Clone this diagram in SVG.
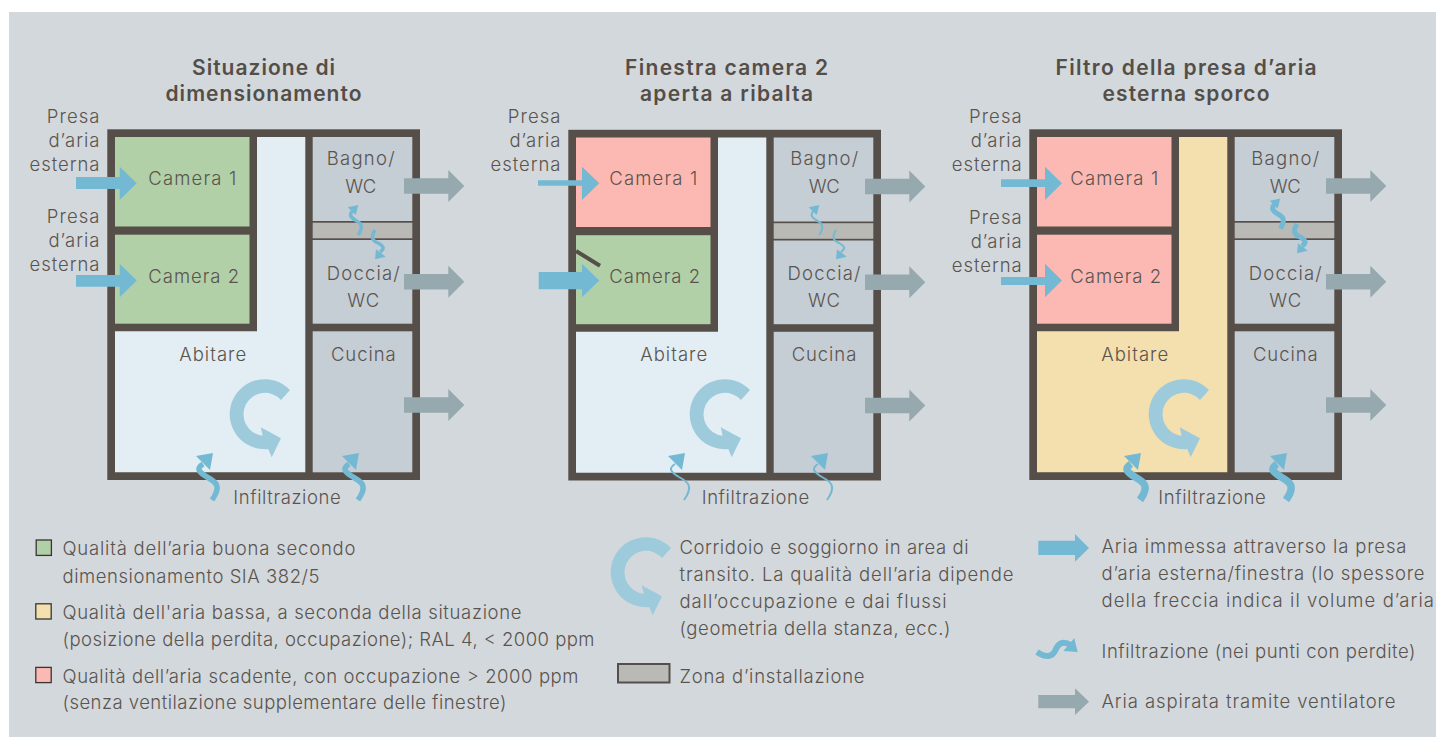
<svg xmlns="http://www.w3.org/2000/svg" width="1436" height="737" viewBox="0 0 1436 737">
<style>
text{font-family:"Inter","Liberation Sans",sans-serif;font-size:18.5px;font-weight:300;fill:#5a544e}
.t{font-size:21px;font-weight:600;fill:#544e48;text-anchor:middle}
.m{text-anchor:middle}.e{text-anchor:end}
.wall{fill:#564f49}.g{fill:#b2d0a7}.r{fill:#fcb9b3}.y{fill:#f4e0ae}.c{fill:#e3edf4}.s{fill:#c5cdd5}.z{fill:#b9b9b6}
.sw{stroke:#3a352f;stroke-width:1.3}
.blue{fill:#74b9d3}.grey{fill:#95a9af}.ring{fill:#9ecbdc}
.i{fill:none;stroke:#74b9d3;stroke-linecap:butt;stroke-linejoin:round}
.h{fill:#74b9d3}
</style>
<defs>
<path id="ringArrow" d="M290,390A35,35 0 1 0 268.3,449L271.7,457.3L281,438.3L260.7,427.3L262.7,435.7A21.5,21.5 0 1 1 281,400Z"/>
<path id="exhaust" d="M404,-7.7H448.3V-16L464.3,0L448.3,16V7.7H404Z"/>
<path id="inf" d="M212,500C222,486 216,482 207,477C197,471 197,468 203,464"/>
<polygon id="infH" points="196,456 213,453 210,470"/>
<path id="up" d="M358.3,235C364,226 361,223 355,220C349,216 350,214 352.3,211"/>
<polygon id="upH" points="347.7,207.3 358.3,205 355.7,215"/>
<path id="dn" d="M375,230C370,238 373,241 378,243C385,247 384,249 380,252"/>
<polygon id="dnH" points="375,259.3 385.7,256.7 376,249.3"/>
</defs>
<rect x="9" y="12" width="1427" height="725" fill="#d3d8dd"/>

<g id="panel-1">
<text class="t" x="263.5" y="75" textLength="143">Situazione di</text>
<text class="t" x="263.5" y="101" textLength="196">dimensionamento</text>
<rect id="walls-1" class="wall" x="107.3" y="129.3" width="312.7" height="350.7"/>
<g id="p1-camera1"><rect class="g" x="115" y="137" width="134.5" height="89.5"/><text x="148.3" y="185" textLength="88">Camera 1</text></g>
<g id="p1-camera2"><rect class="g" x="115" y="234.7" width="134.5" height="89"/><text x="148.3" y="283" textLength="90.7">Camera 2</text></g>
<g id="p1-abitare"><path class="c" d="M115,331.3H257V137H305.3V472.3H115Z"/><text class="m" x="212.7" y="360.7" textLength="67">Abitare</text></g>
<g id="p1-bagno"><rect class="s" x="312.7" y="137" width="99.6" height="84"/><text class="m" x="360.7" y="165" textLength="68">Bagno/</text><text class="m" x="360.7" y="192.7" textLength="31">WC</text></g>
<g id="p1-zona"><rect class="z" x="312.7" y="222.7" width="99.6" height="15.6"/></g>
<g id="p1-doccia"><rect class="s" x="312.7" y="240" width="99.6" height="83.7"/><text class="m" x="363.3" y="280" textLength="73">Doccia/</text><text class="m" x="363.3" y="306.7" textLength="32">WC</text></g>
<g id="p1-cucina"><rect class="s" x="312.7" y="331.3" width="99.6" height="141"/><text class="m" x="363.3" y="360.7" textLength="64.7">Cucina</text></g>
<g id="p1-labels">
<text class="e" x="99.5" y="123.3" textLength="52.7">Presa</text><text class="e" x="99.5" y="147" textLength="51">d’aria</text><text class="e" x="99.5" y="171" textLength="70">esterna</text>
<text class="e" x="99.5" y="222.5" textLength="52.7">Presa</text><text class="e" x="99.5" y="246.5" textLength="51">d’aria</text><text class="e" x="99.5" y="270.5" textLength="70">esterna</text>
<text x="233.3" y="504" textLength="107.5">Infiltrazione</text></g>
</g>

<g id="panel-2">
<text class="t" x="726.5" y="75" textLength="203">Finestra camera 2</text>
<text class="t" x="726.5" y="101" textLength="173">aperta a ribalta</text>
<g transform="translate(461,.5)">
<rect id="walls-2" class="wall" x="107.3" y="129.3" width="312.7" height="350.7"/>
<g id="p2-camera1"><rect class="r" x="115" y="137" width="134.5" height="89.5"/><text x="148.3" y="184.5" textLength="88">Camera 1</text></g>
<g id="p2-camera2"><rect class="g" x="115" y="234.7" width="134.5" height="89"/><text x="148.3" y="282.5" textLength="90.7">Camera 2</text></g>
<g id="p2-abitare"><path class="c" d="M115,331.3H257V137H305.3V472.3H115Z"/><text class="m" x="212.7" y="360.2" textLength="67">Abitare</text></g>
<g id="p2-bagno"><rect class="s" x="312.7" y="137" width="99.6" height="84"/><text class="m" x="363.3" y="164.5" textLength="68">Bagno/</text><text class="m" x="363.3" y="192.2" textLength="31">WC</text></g>
<g id="p2-zona"><rect class="z" x="312.7" y="222.7" width="99.6" height="15.6"/></g>
<g id="p2-doccia"><rect class="s" x="312.7" y="240" width="99.6" height="83.7"/><text class="m" x="363" y="279.5" textLength="73">Doccia/</text><text class="m" x="363" y="306.2" textLength="32">WC</text></g>
<g id="p2-cucina"><rect class="s" x="312.7" y="331.3" width="99.6" height="141"/><text class="m" x="363" y="360.2" textLength="64.7">Cucina</text></g>
<g id="p2-labels">
<text class="e" x="99.5" y="122.8" textLength="52.7">Presa</text><text class="e" x="99.5" y="146.5" textLength="51">d’aria</text><text class="e" x="99.5" y="170.5" textLength="70">esterna</text>
<text x="240.7" y="503.5" textLength="107.5">Infiltrazione</text></g>
</g>
</g>

<g id="panel-3">
<text class="t" x="1186" y="75" textLength="261">Filtro della presa d’aria</text>
<text class="t" x="1186" y="101" textLength="167">esterna sporco</text>
<g transform="translate(922,0)">
<rect id="walls-3" class="wall" x="107.3" y="129.3" width="312.7" height="350.7"/>
<g id="p3-camera1"><rect class="r" x="115" y="137" width="134.5" height="89.5"/><text x="148.3" y="185" textLength="88">Camera 1</text></g>
<g id="p3-camera2"><rect class="r" x="115" y="234.7" width="134.5" height="89"/><text x="148.3" y="283" textLength="90.7">Camera 2</text></g>
<g id="p3-abitare"><path class="y" d="M115,331.3H257V137H305.3V472.3H115Z"/><text class="m" x="212.7" y="360.7" textLength="67">Abitare</text></g>
<g id="p3-bagno"><rect class="s" x="312.7" y="137" width="99.6" height="84"/><text class="m" x="363.3" y="165" textLength="68">Bagno/</text><text class="m" x="363.3" y="192.7" textLength="31">WC</text></g>
<g id="p3-zona"><rect class="z" x="312.7" y="222.7" width="99.6" height="15.6"/></g>
<g id="p3-doccia"><rect class="s" x="312.7" y="240" width="99.6" height="83.7"/><text class="m" x="363.3" y="280" textLength="73">Doccia/</text><text class="m" x="363.3" y="306.7" textLength="32">WC</text></g>
<g id="p3-cucina"><rect class="s" x="312.7" y="331.3" width="99.6" height="141"/><text class="m" x="363.3" y="360.7" textLength="64.7">Cucina</text></g>
<g id="p3-labels">
<text class="e" x="99.7" y="123.3" textLength="52.7">Presa</text><text class="e" x="99.7" y="147" textLength="51">d’aria</text><text class="e" x="99.7" y="171" textLength="70">esterna</text>
<text class="e" x="99.7" y="223.7" textLength="52.7">Presa</text><text class="e" x="99.7" y="248" textLength="51">d’aria</text><text class="e" x="99.7" y="272" textLength="70">esterna</text>
<text x="236.3" y="504" textLength="107.5">Infiltrazione</text></g>
</g>
</g>

<g id="connectors">
<line x1="576" y1="251" x2="600" y2="265.7" stroke="#564f49" stroke-width="4"/>
<g class="blue">
<path d="M76,177H119.7V166.7L136.7,183.3L119.7,200V189H76Z"/>
<path d="M76,275H119.7V263.7L136.7,280.5L119.7,297.3V286.7H76Z"/>
<path d="M538,180.3H582V166.7L599.3,183.3L582,200V185.7H538Z"/>
<path d="M538.7,272H582V263.7L599.3,280.5L582,297.3V289.3H538.7Z"/>
<path d="M1001,179.3H1045V166.7L1062,183.3L1045,200V187H1001Z"/>
<path d="M1001,277H1045V263.7L1062,280.5L1045,297.3V285H1001Z"/>
</g>
<g class="grey">
<use href="#exhaust" y="186"/><use href="#exhaust" y="281.7"/><use href="#exhaust" y="405"/>
<use href="#exhaust" x="461" y="186.5"/><use href="#exhaust" x="461" y="282.2"/><use href="#exhaust" x="461" y="405.5"/>
<use href="#exhaust" x="922" y="186"/><use href="#exhaust" x="922" y="281.7"/><use href="#exhaust" x="922" y="405"/>
</g>
<g class="ring">
<use href="#ringArrow"/><use href="#ringArrow" x="460"/><use href="#ringArrow" x="919"/>
</g>
<g id="infiltration-1">
<use href="#inf" class="i" stroke-width="5.5"/><use href="#infH" class="h"/>
<use href="#inf" class="i" stroke-width="5.5" x="146"/><use href="#infH" class="h" x="146"/>
<use href="#up" class="i" stroke-width="3.5"/><use href="#upH" class="h"/>
<use href="#dn" class="i" stroke-width="3.5"/><use href="#dnH" class="h"/>
</g>
<g id="infiltration-2">
<use href="#inf" class="i" stroke-width="2" x="472"/><use href="#infH" class="h" x="472"/>
<use href="#inf" class="i" stroke-width="2" x="615"/><use href="#infH" class="h" x="615"/>
<use href="#up" class="i" stroke-width="2" x="461"/><use href="#upH" class="h" x="461"/>
<use href="#dn" class="i" stroke-width="2" x="461"/><use href="#dnH" class="h" x="461"/>
</g>
<g id="infiltration-3">
<use href="#inf" class="i" stroke-width="7.5" x="928"/><use href="#infH" class="h" x="928"/>
<use href="#inf" class="i" stroke-width="7.5" x="1074"/><use href="#infH" class="h" x="1074"/>
<use href="#up" class="i" stroke-width="5" x="922" y="-6.5"/><use href="#upH" class="h" x="922" y="-6.5"/>
<use href="#dn" class="i" stroke-width="5" x="922" y="-6"/><use href="#dnH" class="h" x="922" y="-6"/>
</g>
</g>

<g id="legend-left">
<g id="leg-good"><rect class="g sw" x="36.2" y="540" width="15.2" height="15.4"/><text x="62.5" y="555" textLength="293">Qualità dell’aria buona secondo</text><text x="62.5" y="583" textLength="257">dimensionamento SIA 382/5</text></g>
<g id="leg-low"><rect class="y sw" x="35.8" y="603.8" width="15.4" height="15.2"/><text x="62.5" y="619" textLength="459">Qualità dell'aria bassa, a seconda della situazione</text><text x="62.5" y="645.7" textLength="532">(posizione della perdita, occupazione); RAL 4, &lt; 2000 ppm</text></g>
<g id="leg-bad"><rect class="r sw" x="35.8" y="667.4" width="15.4" height="15.2"/><text x="62.5" y="683" textLength="516">Qualità dell’aria scadente, con occupazione &gt; 2000 ppm</text><text x="62.5" y="709.3" textLength="444">(senza ventilazione supplementare delle finestre)</text></g>
</g>
<g id="legend-middle">
<g id="leg-ring"><use href="#ringArrow" class="ring" x="381" y="158"/>
<text x="679.5" y="553.5" textLength="289">Corridoio e soggiorno in area di</text>
<text x="679.5" y="580.7" textLength="334">transito. La qualità dell’aria dipende</text>
<text x="679.5" y="607.7" textLength="267">dall’occupazione e dai flussi</text>
<text x="679.5" y="634.7" textLength="271">(geometria della stanza, ecc.)</text></g>
<g id="leg-zona"><rect class="z" x="618" y="664" width="51.5" height="18.5" stroke="#564f49" stroke-width="2"/><text x="679.5" y="682.7" textLength="185">Zona d’installazione</text></g>
</g>
<g id="legend-right">
<g id="leg-air"><path class="blue" d="M1038.3,540.7H1075V534L1089,548L1075,561.7V555H1038.3Z"/>
<text x="1101.5" y="553.3" textLength="305">Aria immessa attraverso la presa</text>
<text x="1101.5" y="580" textLength="323">d’aria esterna/finestra (lo spessore</text>
<text x="1101.5" y="607" textLength="340">della freccia indica il volume d’aria)</text></g>
<g id="leg-inf"><path class="i" stroke-width="6" d="M1037,652C1046,658 1052,657 1055,651C1058,644 1062,640 1071,645"/><polygon class="h" points="1063.3,651 1077.7,652 1074.3,638.3"/><text x="1101.5" y="657.7" textLength="314">Infiltrazione (nei punti con perdite)</text></g>
<g id="leg-exh"><path class="grey" d="M1038.3,695H1075V688.3L1089,701.7L1075,715V708.3H1038.3Z"/><text x="1101.5" y="708" textLength="294">Aria aspirata tramite ventilatore</text></g>
</g>
</svg>
